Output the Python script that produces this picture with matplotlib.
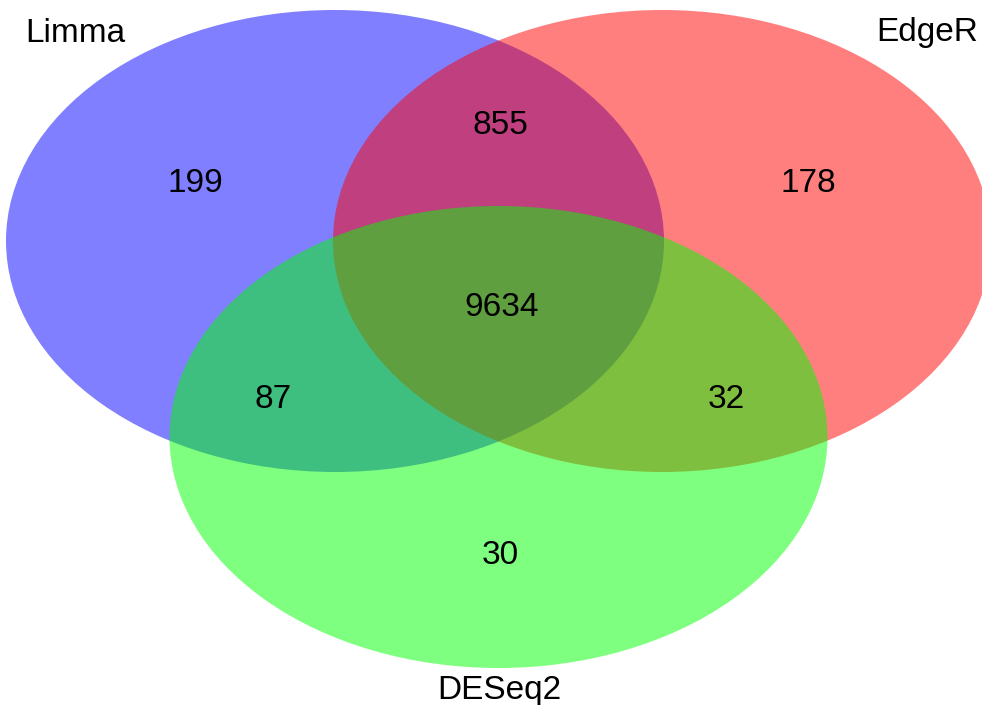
import matplotlib
matplotlib.use("Agg")
import matplotlib.pyplot as plt
from matplotlib.patches import Ellipse

# Data
set_names = ["Limma", "EdgeR", "DESeq2"]
region_keys = ["Limma only", "Limma&EdgeR", "EdgeR only", "All", "Limma&DESeq2", "EdgeR&DESeq2", "DESeq2 only"]
region_counts = [199, 855, 178, 9634, 87, 32, 30]
set_colors = ["#0000FF", "#FF0000", "#00FF00"]

# Layout (pixel coordinates)
W, H = 982, 705
centers = [(335, 241), (662, 241), (498.5, 437)]
ell_w, ell_h = 658, 462
region_pos = [(195, 184), (500, 125), (808, 184), (502, 307), (273, 399), (726, 399), (500, 556)]
name_pos = [(25, 33, "left"), (978, 33, "right"), (499, 690, "center")]

plt.rcParams['font.family'] = ['Liberation Sans', 'DejaVu Sans']
fig = plt.figure(figsize=(W / 100, H / 100), dpi=100)
ax = fig.add_axes([0, 0, 1, 1])
ax.set_xlim(0, W)
ax.set_ylim(H, 0)
ax.axis("off")

for c, col in zip(centers, set_colors):
    ax.add_patch(Ellipse(c, ell_w, ell_h, facecolor=col, alpha=0.5, edgecolor="none"))

for (x, y), n in zip(region_pos, region_counts):
    ax.text(x, y, str(n), fontsize=24, ha="center", va="center", color="black")

for (x, y, ha), name in zip(name_pos, set_names):
    ax.text(x, y, name, fontsize=24, ha=ha, va="center", color="black")

fig.savefig("out.png", dpi=100)
